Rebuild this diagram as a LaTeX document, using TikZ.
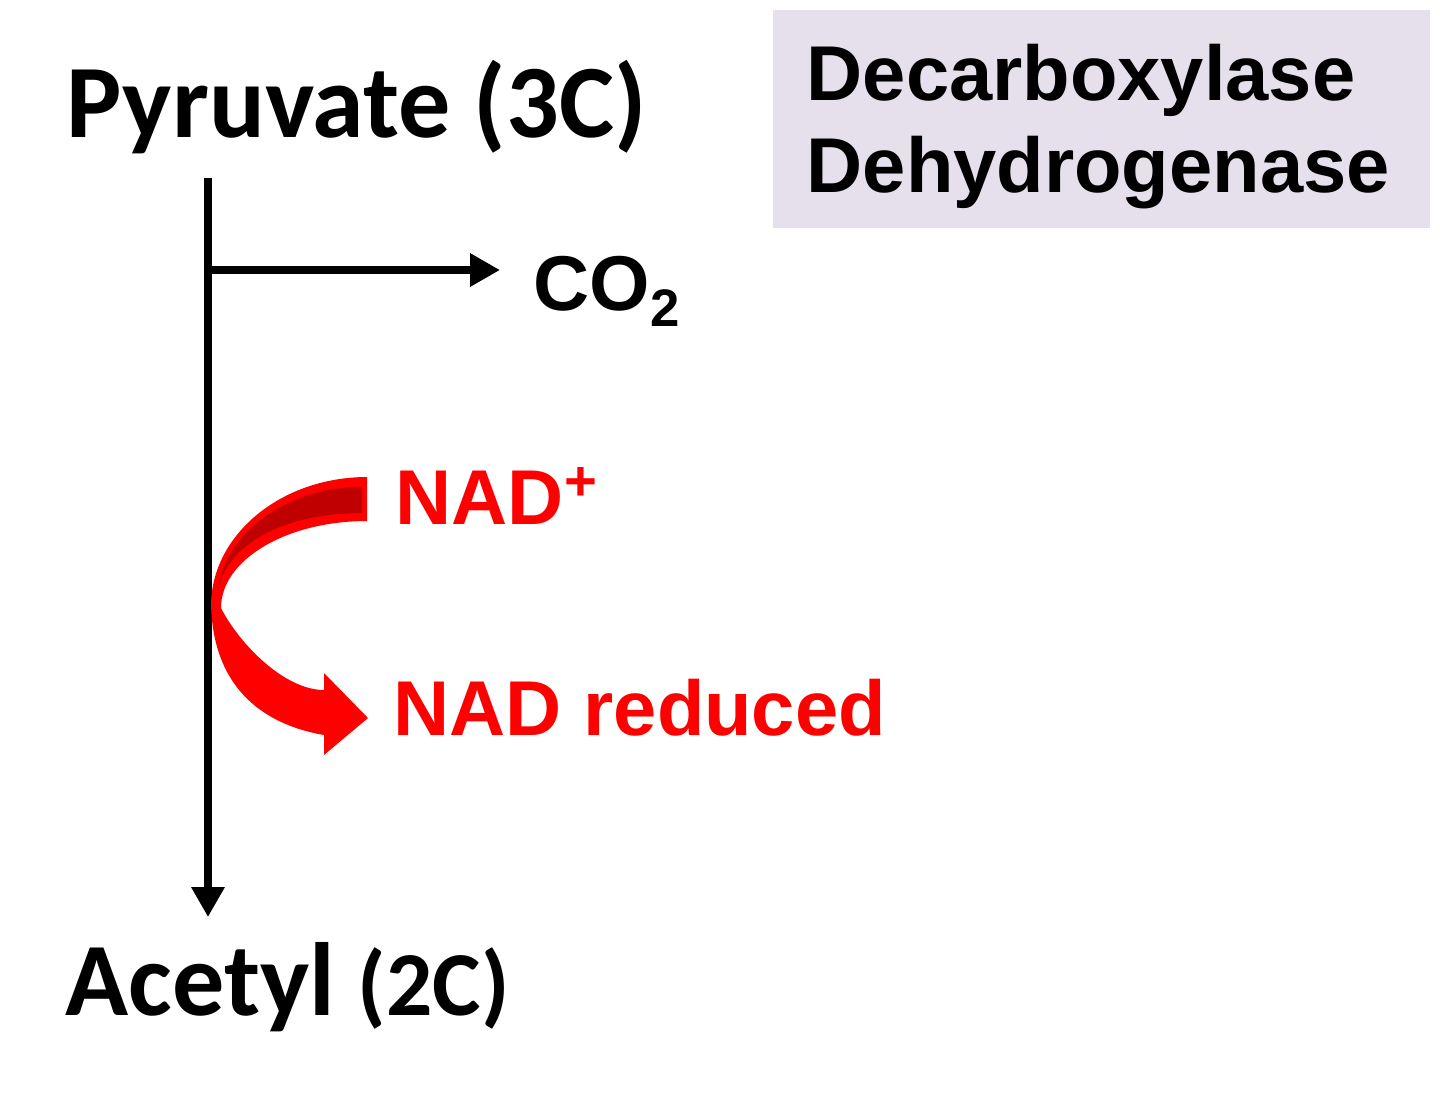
\documentclass[tikz,border=0pt]{standalone}
\usepackage{fontspec}
\setmainfont{Liberation Sans}
\newfontfamily\calib{Carlito}
\usetikzlibrary{arrows.meta}
\definecolor{enzfill}{HTML}{E5E0EC}
\definecolor{nadred}{HTML}{FF0000}
\definecolor{nadback}{HTML}{C00000}
\begin{document}
\begin{tikzpicture}[x=0.01cm,y=-0.01cm,
    lbl/.style={inner sep=0,anchor=base west,font=\fontsize{22.1}{26}\selectfont\bfseries},
    big/.style={inner sep=0,anchor=base west,font=\fontsize{29.6}{34}\selectfont\calib\bfseries},
    rxn/.style={line width=2pt,-{Triangle[length=8.5pt,width=9pt]}}]
    \useasboundingbox (0,0) rectangle (1440,1105);
    \fill[enzfill] (773,10) rectangle (1430,228);
    \node[lbl] at (806,100) (dec) {Decarboxylase};
    \node[lbl] at (806,192) (dehyd) {Dehydrogenase};
    \node[big] at (66,137) (pyr) {Pyruvate (3C)};
    \node[big] at (65,1015) (acet) {Acetyl\hspace{0.22em}{\fontsize{26}{30}\selectfont(2C)}};
    \node[lbl] at (533,310) (co2) {CO\raisebox{-4.8pt}{\fontsize{15}{18}\selectfont 2}};
    \node[lbl,nadred] at (395,524) (nadp) {NAD\raisebox{6.8pt}{\fontsize{16}{18}\selectfont +}};
    \node[lbl,nadred] at (393,735) (nadr) {NAD reduced};
    \coordinate (top) at (208,178);
    \coordinate (bot) at (208,917);
    \coordinate (br) at (208,270);
    \coordinate (co2in) at (500,270);
    \draw[rxn] (top) -- (bot);
    \draw[rxn] (br) -- (co2in);
    \fill[nadred] (367,477) .. controls (281,477) and (211,535) .. (211,606)
        -- (221,608) .. controls (221,560) and (286,521) .. (367,521) -- cycle;
    \fill[nadback] (362,487) .. controls (290,487) and (228,530) .. (219,585)
        .. controls (232,540) and (290,513) .. (362,513) -- cycle;
    \fill[nadred] (211,600) .. controls (211,675) and (250,722) .. (324,735)
        -- (324,755) -- (368,718) -- (324,673) -- (324,690)
        .. controls (285,690) and (240,645) .. (221,608) -- cycle;
\end{tikzpicture}
\end{document}
